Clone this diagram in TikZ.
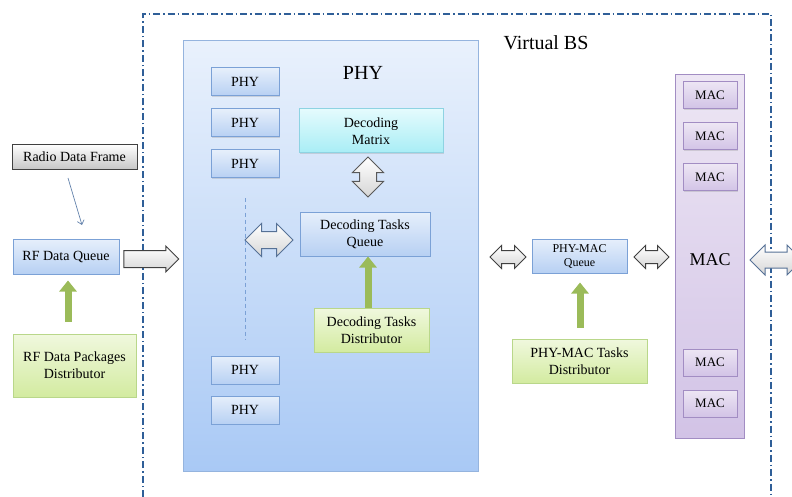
\documentclass[tikz,border=0pt]{standalone}
\usepackage{fontspec}
\setmainfont{Liberation Serif}
\usetikzlibrary{shapes.arrows,shadows,arrows.meta}

% colours of the boxes
\definecolor{bsline}{HTML}{2F5F98}
\definecolor{blueline}{HTML}{7BA1D6}
\definecolor{bluetop}{HTML}{E6EFFB}
\definecolor{bluebot}{HTML}{B7D0F3}
\definecolor{phytop}{HTML}{E9F1FC}
\definecolor{phybot}{HTML}{A9C9F5}
\definecolor{cyanline}{HTML}{8ED3E2}
\definecolor{cyantop}{HTML}{E4FBFD}
\definecolor{cyanbot}{HTML}{A8EDF5}
\definecolor{greenline}{HTML}{B9D78A}
\definecolor{greentop}{HTML}{F0F8DE}
\definecolor{greenbot}{HTML}{D3EBA0}
\definecolor{feedgreen}{HTML}{9BBB59}
\definecolor{purpline}{HTML}{A28DC3}
\definecolor{purptop}{HTML}{EDE6F4}
\definecolor{purpbot}{HTML}{D2C3E6}
\definecolor{fatgray}{HTML}{D6D6D6}

\tikzset{
  shade/.style={drop shadow={opacity=0.25,shadow xshift=1.2pt,shadow yshift=-1.2pt}},
  bluebox/.style={draw=blueline, line width=1pt, top color=bluetop, bottom color=bluebot,
    inner sep=0pt, align=center, shade},
  cyanbox/.style={draw=cyanline, line width=1pt, top color=cyantop, bottom color=cyanbot,
    inner sep=0pt, align=center, shade},
  greenbox/.style={draw=greenline, line width=1pt, top color=greentop, bottom color=greenbot,
    inner sep=0pt, align=center, shade},
  graybox/.style={draw=black!75, line width=0.8pt, top color=white, bottom color=black!22,
    inner sep=0pt, align=center, shade},
  purpbox/.style={draw=purpline, line width=1pt, top color=purptop, bottom color=purpbot,
    inner sep=0pt, align=center, shade},
  feed/.style={feedgreen, line width=7pt, -{Triangle[width=17pt,length=11pt]}},
  % fat arrows: shaft width is twice the inner ysep
  twoway/.style={double arrow, draw=#1, line width=1pt, top color=white, bottom color=fatgray,
    inner xsep=0pt},
  oneway/.style={single arrow, draw=black!75, line width=1pt, top color=white, bottom color=fatgray,
    inner xsep=0pt}
}

\begin{document}
\begin{tikzpicture}[x=1pt,y=-1pt]
\useasboundingbox (0,0) rectangle (792,497);

% Virtual BS frame (open at the bottom)
\draw[bsline, line width=1.6pt, dash pattern=on 7pt off 3pt on 1.5pt off 3pt]
  (143,497) -- (143,14) -- (771,14) -- (771,497);
\node[font=\fontsize{20}{24}\selectfont] (vbs) at (546,43) {Virtual BS};

% radio side
\node[graybox, minimum width=125pt, minimum height=25pt, font=\fontsize{14}{17}\selectfont]
  (rdf) at (74.5,156.5) {Radio Data Frame};
\node[bluebox, minimum width=106pt, minimum height=35pt, font=\fontsize{14}{17}\selectfont]
  (rfq) at (66,256.5) {RF Data Queue};
\node[greenbox, minimum width=123pt, minimum height=63pt, font=\fontsize{14}{17}\selectfont]
  (rfd) at (74.5,365.5) {RF Data Packages\\Distributor};
\coordinate (fs) at (68,178);
\coordinate (fe) at (82,225);
\draw[blueline!80!black, line width=0.7pt, -{Straight Barb[length=4pt,width=7pt]}] (fs) -- (fe);
\draw[feed, shorten <=12pt, shorten >=6pt] (rfd.north -| 68,0) -- (rfq.south -| 68,0);

% PHY pool
\node[draw=blueline!80, line width=1pt, top color=phytop, bottom color=phybot,
  minimum width=295pt, minimum height=430pt, shade] (phy) at (330.5,256) {};
\node[font=\fontsize{20}{24}\selectfont] (phyt) at (363,73) {PHY};
\foreach \y/\n in {82/1,123/2,164/3,370/4,410/5}
  \node[bluebox, minimum width=68pt, minimum height=28pt, font=\fontsize{14}{17}\selectfont]
    (phy\n) at (245,\y) {PHY};
\draw[blueline, line width=0.8pt, dash pattern=on 4pt off 3pt]
  ([yshift=-20pt]phy3.south) -- ([yshift=16pt]phy4.north);
\node[cyanbox, minimum width=144pt, minimum height=44pt, font=\fontsize{14}{17}\selectfont]
  (dm) at (371,131) {Decoding\\Matrix};
\node[bluebox, minimum width=130pt, minimum height=44pt, font=\fontsize{14}{17}\selectfont]
  (dtq) at (365,234) {Decoding Tasks\\Queue};
\node[greenbox, minimum width=115pt, minimum height=44pt, font=\fontsize{14}{17}\selectfont]
  (dtd) at (371.5,330) {Decoding Tasks\\Distributor};
\node[twoway=black!65, rotate=90, inner ysep=8pt, minimum height=40pt,
  double arrow head extend=7pt] (dmarrow) at (368,177) {};
\node[twoway=blueline!70!black, inner ysep=8pt, minimum height=48pt,
  double arrow head extend=8pt] (phyarrow) at (269,240) {};
\draw[feed] (dtd.north -| 368,0) -- (dtq.south -| 368,0);

% input to the PHY pool
\node[oneway, inner ysep=8pt, minimum height=55pt, single arrow head extend=4.5pt]
  (rfarrow) at (147,259) {};

% PHY-MAC queue
\node[bluebox, minimum width=95pt, minimum height=34pt, font=\fontsize{12}{14}\selectfont]
  (pmq) at (579.5,256) {PHY-MAC\\Queue};
\node[greenbox, minimum width=135pt, minimum height=44pt, font=\fontsize{14}{17}\selectfont]
  (pmd) at (579.5,361) {PHY-MAC Tasks\\Distributor};
\draw[feed, shorten <=11pt, shorten >=9pt] (pmd.north -| 580,0) -- (pmq.south -| 580,0);
\node[twoway=black!75, inner ysep=6pt, minimum height=36pt,
  double arrow head extend=5pt] (pmleft) at (508,257) {};
\node[twoway=black!75, inner ysep=6pt, minimum height=35pt,
  double arrow head extend=5pt] (pmright) at (651.5,257) {};

% MAC pool
\node[purpbox, minimum width=69pt, minimum height=363pt] (mac) at (709.5,256.5) {};
\node[font=\fontsize{18}{22}\selectfont] (mact) at (710,260) {MAC};
\foreach \y/\n in {95/1,136.5/2,177.5/3,362.5/4,403.5/5}
  \node[purpbox, minimum width=54pt, minimum height=27pt, font=\fontsize{13}{15}\selectfont]
    (mac\n) at (710,\y) {MAC};
\node[twoway=blueline!70!black, inner ysep=7.5pt, minimum height=52pt,
  double arrow head extend=7pt] (macarrow) at (776,260) {};
\end{tikzpicture}
\end{document}
